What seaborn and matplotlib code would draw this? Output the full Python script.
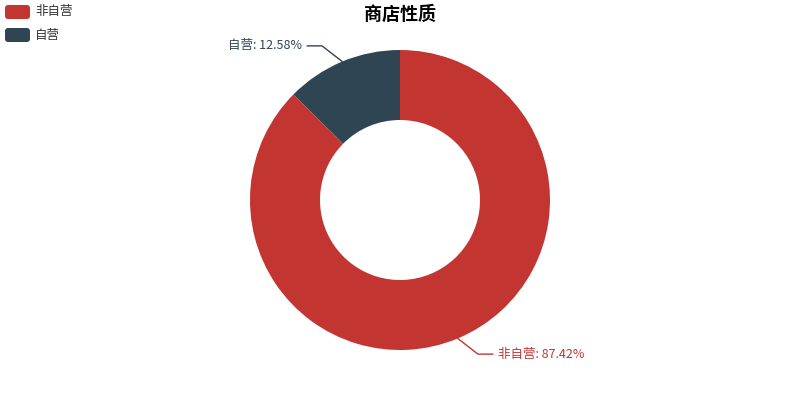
import numpy as np
import matplotlib
matplotlib.use('Agg')
import matplotlib.pyplot as plt
import seaborn as sns
from matplotlib.patches import FancyBboxPatch

sns.set_theme(style='white')
plt.rcParams['font.family'] = ['Noto Sans CJK SC', 'DejaVu Sans']

# data
categories = ['非自营', '自营']
shares = [87.42, 12.58]
colors = ['#c23531', '#2f4554']
title = '商店性质'

fig = plt.figure(figsize=(8, 4), dpi=100)
ax = fig.add_axes([0, 0, 1, 1])
ax.axis('off')

cx, cy = 400, 200
r_out, r_in = 150, 80
len1, len2 = 17, 15   # label line segments
label_r = 180         # labels sit on this circle (echarts style)

wedges, _ = ax.pie(shares, colors=colors, startangle=90, counterclock=False,
                   radius=r_out, center=(cx, cy),
                   wedgeprops=dict(width=r_out - r_in, linewidth=0))
ax.set_xlim(0, 800)
ax.set_ylim(0, 400)
ax.set_aspect('equal')

# leader lines + labels
for w, name, val, col in zip(wedges, categories, shares, colors):
    mid = np.deg2rad((w.theta1 + w.theta2) / 2)
    dx, dy = np.cos(mid), np.sin(mid)
    x0, y0 = cx + r_out * dx, cy + r_out * dy
    y1 = cy + (r_out + len1) * dy
    side = 1 if dx > 0 else -1
    reach = np.sqrt(label_r ** 2 - (y1 - cy) ** 2)
    x2 = cx + side * reach
    x1 = x2 - side * len2
    ax.plot([x0, x1, x2], [y0, y1, y1], color=col, lw=1)
    ax.text(x2 + side * 5, y1, f'{name}: {val:.2f}%', color=col, fontsize=9,
            ha='left' if side > 0 else 'right', va='center')

ax.text(400, 400 - 14, title, fontsize=13, fontweight='bold', color='#000000',
        ha='center', va='center')

# legend
for i, (name, col) in enumerate(zip(categories, colors)):
    yc = 400 - 12 - i * 23
    ax.add_patch(FancyBboxPatch((5, yc - 7), 25, 14,
                                boxstyle='round,pad=0,rounding_size=3',
                                facecolor=col, edgecolor='none'))
    ax.text(35, yc, name, fontsize=9, color='#333333', ha='left', va='center')

fig.savefig('out.png', dpi=100)
